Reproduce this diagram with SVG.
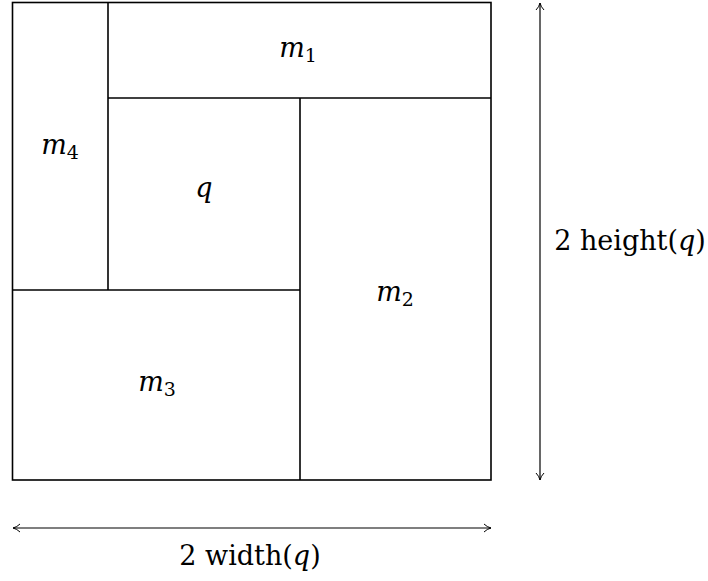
<svg xmlns="http://www.w3.org/2000/svg" width="708" height="581" viewBox="0 0 708 581">
<style>
.ln{fill:none;stroke:#000;stroke-width:1.6}
.ar{fill:none;stroke:#000;stroke-width:1.2}
.t{font-family:"DejaVu Serif","Liberation Serif",serif;font-size:27px;fill:#000}
.i{font-style:italic}
.s{font-size:19px}
</style>
<defs>
<marker id="ah" viewBox="0 0 10 10" refX="9" refY="5" markerWidth="10" markerHeight="10" markerUnits="userSpaceOnUse" orient="auto-start-reverse">
<path d="M2,1 Q5,4 9,5 Q5,6 2,9" fill="none" stroke="#000" stroke-width="1"/>
</marker>
</defs>
<rect width="708" height="581" fill="#fff"/>
<g id="box">
<rect class="ln" x="12.5" y="2.5" width="478.5" height="477.5"/>
</g>
<g id="m1"><text class="t" x="298" y="57" text-anchor="middle"><tspan class="i">m</tspan><tspan class="s" dy="5">1</tspan></text></g>
<g id="m4"><text class="t" x="60" y="154" text-anchor="middle"><tspan class="i">m</tspan><tspan class="s" dy="5">4</tspan></text></g>
<g id="q"><text class="t i" x="204" y="197" text-anchor="middle">q</text></g>
<g id="m2"><text class="t" x="395" y="301" text-anchor="middle"><tspan class="i">m</tspan><tspan class="s" dy="5">2</tspan></text></g>
<g id="m3"><text class="t" x="157" y="391" text-anchor="middle"><tspan class="i">m</tspan><tspan class="s" dy="5">3</tspan></text></g>
<g id="connectors">
<line class="ln" x1="108" y1="98" x2="491" y2="98"/>
<line class="ln" x1="108" y1="2.5" x2="108" y2="290"/>
<line class="ln" x1="12.5" y1="290" x2="300" y2="290"/>
<line class="ln" x1="300" y1="98" x2="300" y2="480"/>
<line class="ar" x1="540" y1="3" x2="540" y2="480" marker-start="url(#ah)" marker-end="url(#ah)"/>
<line class="ar" x1="13" y1="528" x2="491" y2="528" marker-start="url(#ah)" marker-end="url(#ah)"/>
</g>
<g id="lbl-h"><text class="t" x="630" y="250" text-anchor="middle">2 height(<tspan class="i">q</tspan>)</text></g>
<g id="lbl-w"><text class="t" x="250" y="565" text-anchor="middle">2 width(<tspan class="i">q</tspan>)</text></g>
</svg>
